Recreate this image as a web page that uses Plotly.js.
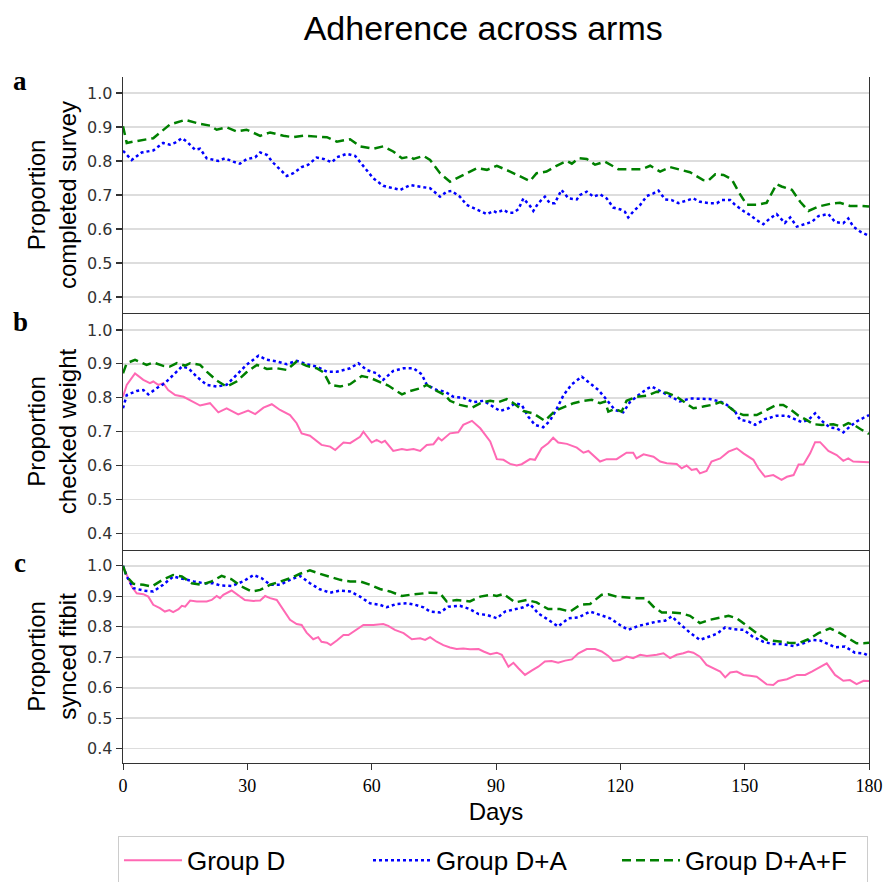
<!DOCTYPE html>
<html>
<head>
<meta charset="utf-8">
<script src="https://cdn.plot.ly/plotly-3.0.1.min.js"></script>
<style>html,body{margin:0;padding:0;background:#fff;}#chart{width:885px;height:882px;}</style>
</head>
<body>
<div id="chart"></div>
<script>
// ---------- DATA ----------
var groupNames = ["Group D", "Group D+A", "Group D+A+F"];
var panelLabels = ["a", "b", "c"];
var yTitles = ["Proportion<br>completed survey", "Proportion<br>checked weight", "Proportion<br>synced fitbit"];
var xTickVals = [0, 30, 60, 90, 120, 150, 180];
var yTickVals = [0.4, 0.5, 0.6, 0.7, 0.8, 0.9, 1.0];

// Panel a: completed survey
var aDA_day = [0,0.9,2.1,4.5,7.3,9.7,11.3,12.6,14.2,15.4,17.4,18.6,20.2,23.0,24.6,26.6,28.2,29.8,31.9,33.1,34.7,36.3,37.9,39.5,41.1,43.1,44.7,46.7,48.4,50.4,51.6,54.0,56.0,58.0,60.4,62.8,65.2,66.9,69.3,71.7,74.1,76.5,78.1,79.3,81.3,82.9,85.4,87.8,89.4,90.2,91.8,93.0,94.2,95.4,96.6,98.2,99.0,100.2,101.8,103.0,104.2,105.8,107.5,109.5,110.3,111.9,113.5,115.1,116.7,118.3,119.9,121.1,121.9,123.1,124.8,126.4,128.0,129.2,130.8,132.4,134.0,136.0,137.6,139.2,141.6,143.3,144.5,146.5,147.7,149.7,151.3,152.9,154.5,156.1,157.7,159.7,161.0,162.6,164.6,166.2,167.8,170.2,171.8,173.8,175.0,176.2,177.9,179.5,180];
var aDA = [0.830,0.818,0.803,0.825,0.831,0.853,0.848,0.854,0.867,0.857,0.833,0.836,0.808,0.800,0.808,0.798,0.792,0.805,0.811,0.825,0.818,0.794,0.774,0.756,0.764,0.782,0.789,0.810,0.806,0.796,0.811,0.821,0.815,0.784,0.749,0.727,0.720,0.715,0.729,0.725,0.720,0.695,0.710,0.712,0.695,0.671,0.656,0.644,0.653,0.648,0.656,0.648,0.648,0.658,0.690,0.668,0.653,0.676,0.695,0.676,0.676,0.715,0.690,0.687,0.700,0.710,0.695,0.702,0.690,0.663,0.658,0.651,0.634,0.651,0.671,0.697,0.705,0.713,0.687,0.685,0.676,0.683,0.690,0.680,0.676,0.676,0.685,0.685,0.671,0.653,0.641,0.626,0.614,0.631,0.644,0.618,0.634,0.607,0.615,0.621,0.638,0.644,0.621,0.617,0.631,0.607,0.592,0.582,0.580];
var aDAF_day = [0,0.9,2.5,7.3,11.3,15.0,18.6,21.0,22.6,25.0,27.4,29.8,33.1,35.5,38.7,41.1,43.5,46.7,49.2,51.6,54.8,57.2,60.4,62.8,65.2,67.3,69.3,70.1,72.5,74.1,76.5,78.9,81.3,82.9,85.4,87.8,90.2,93.4,95.8,98.2,99.8,102.2,104.6,107.1,108.3,109.9,111.9,113.9,116.3,119.5,122.3,125.2,127.2,129.6,132.0,134.4,136.8,140.0,141.2,142.9,144.9,146.9,148.5,150.5,152.9,155.3,157.7,158.9,161.4,163.4,165.4,167.8,170.6,173.0,175.4,177.9,180];
var aDAF = [0.902,0.853,0.857,0.867,0.907,0.921,0.909,0.904,0.892,0.899,0.887,0.892,0.874,0.884,0.874,0.870,0.874,0.872,0.870,0.857,0.864,0.843,0.836,0.843,0.828,0.808,0.813,0.806,0.815,0.803,0.764,0.739,0.754,0.764,0.779,0.774,0.786,0.769,0.754,0.741,0.764,0.769,0.786,0.800,0.792,0.808,0.806,0.789,0.798,0.776,0.776,0.776,0.786,0.769,0.782,0.774,0.767,0.744,0.742,0.761,0.759,0.746,0.710,0.671,0.671,0.677,0.732,0.725,0.715,0.680,0.653,0.666,0.674,0.677,0.668,0.668,0.666];

// Panel b: checked weight
var bD_day = [0,0.9,2.9,4.9,6.5,7.3,8.5,9.7,10.9,12.6,14.6,16.6,18.6,21.0,23.0,25.0,27.8,30.2,31.9,33.9,35.9,37.9,40.3,41.9,43.1,45.1,47.9,50.0,51.2,53.2,54.8,57.2,58.0,60.0,61.2,62.4,63.2,65.2,67.3,68.5,70.1,71.7,73.3,74.9,76.1,76.9,78.9,80.9,82.1,84.2,86.2,88.6,90.2,91.8,93.4,95.0,96.2,98.2,99.4,101.0,102.6,103.8,105.0,107.1,109.5,111.1,112.3,115.1,116.7,119.1,121.5,123.1,123.9,125.6,128.0,129.6,131.2,133.6,134.8,136.0,137.2,138.4,139.2,140.8,142.0,144.1,146.1,148.1,149.7,152.1,153.3,154.9,156.9,158.9,160.2,161.8,163.0,164.2,165.8,167.0,168.2,170.2,172.2,173.8,175.0,176.2,177.9,180];
var bD = [0.803,0.838,0.872,0.853,0.843,0.848,0.838,0.843,0.823,0.808,0.803,0.791,0.777,0.784,0.757,0.769,0.751,0.762,0.752,0.771,0.781,0.764,0.749,0.725,0.695,0.688,0.661,0.656,0.646,0.668,0.666,0.685,0.700,0.668,0.676,0.668,0.673,0.643,0.649,0.646,0.649,0.643,0.661,0.663,0.682,0.674,0.695,0.698,0.720,0.732,0.710,0.671,0.619,0.617,0.605,0.600,0.604,0.619,0.617,0.651,0.666,0.682,0.668,0.664,0.653,0.638,0.643,0.612,0.619,0.619,0.638,0.638,0.621,0.633,0.626,0.612,0.607,0.605,0.592,0.600,0.587,0.590,0.577,0.584,0.612,0.621,0.641,0.651,0.636,0.617,0.592,0.567,0.572,0.558,0.567,0.572,0.603,0.603,0.636,0.669,0.669,0.643,0.631,0.614,0.621,0.612,0.612,0.610];
var bDA_day = [0,0.9,3.3,4.9,6.1,8.1,10.1,12.1,14.2,15.8,17.8,20.2,22.6,25.0,27.4,29.8,32.7,34.7,37.1,39.5,41.9,44.3,46.7,49.2,51.6,54.8,56.8,58.8,61.2,62.8,65.2,67.7,70.1,72.1,73.3,75.7,77.7,79.7,82.1,84.6,87.0,89.4,91.0,93.0,94.6,96.2,97.8,99.4,101.4,103.0,104.6,106.3,108.3,110.7,112.7,114.7,116.3,118.7,120.7,122.3,124.4,126.4,127.6,129.6,132.4,134.4,136.8,139.2,141.6,144.1,145.7,147.7,148.9,150.9,152.5,154.9,157.7,160.2,161.8,163.8,165.4,167.0,168.6,170.6,172.2,173.8,175.4,177.0,178.7,180];
var bDA = [0.769,0.808,0.820,0.823,0.810,0.828,0.843,0.867,0.892,0.887,0.862,0.838,0.833,0.838,0.869,0.897,0.924,0.912,0.907,0.899,0.909,0.899,0.892,0.877,0.877,0.887,0.902,0.882,0.872,0.853,0.879,0.887,0.887,0.869,0.838,0.823,0.818,0.803,0.800,0.787,0.791,0.774,0.761,0.769,0.784,0.779,0.744,0.720,0.713,0.732,0.766,0.808,0.840,0.862,0.843,0.823,0.800,0.764,0.757,0.787,0.808,0.826,0.833,0.820,0.803,0.789,0.798,0.798,0.796,0.789,0.779,0.759,0.735,0.730,0.720,0.737,0.747,0.747,0.739,0.728,0.735,0.754,0.732,0.712,0.710,0.698,0.715,0.730,0.741,0.749];
var bDAF_day = [0,0.9,2.9,5.7,7.3,9.7,11.3,13.0,15.0,16.2,18.6,20.2,22.6,25.0,27.4,29.8,32.3,34.7,37.1,39.5,41.9,44.3,46.7,48.4,50.0,52.4,54.8,57.6,59.6,62.0,64.0,65.6,67.3,69.3,71.7,73.3,75.7,77.7,78.9,81.3,84.2,86.6,88.6,90.6,92.6,94.6,96.6,99.0,101.8,104.2,106.7,108.7,111.1,113.1,115.1,116.3,117.1,118.7,120.3,121.5,123.9,126.4,128.8,131.2,133.6,136.0,137.6,140.0,142.1,144.1,146.1,147.7,149.7,152.9,155.7,157.7,159.3,161.0,163.0,164.6,166.6,168.6,171.4,173.4,175.0,176.6,177.9,180];
var bDAF = [0.872,0.902,0.912,0.897,0.904,0.894,0.892,0.902,0.895,0.902,0.897,0.877,0.851,0.833,0.848,0.875,0.897,0.885,0.887,0.882,0.907,0.894,0.887,0.875,0.838,0.833,0.840,0.864,0.859,0.846,0.836,0.823,0.810,0.820,0.828,0.838,0.820,0.808,0.791,0.779,0.771,0.786,0.791,0.787,0.796,0.781,0.761,0.754,0.732,0.761,0.774,0.784,0.791,0.794,0.784,0.789,0.759,0.767,0.759,0.791,0.803,0.806,0.818,0.815,0.803,0.784,0.769,0.774,0.779,0.787,0.774,0.759,0.749,0.749,0.767,0.779,0.779,0.766,0.747,0.737,0.722,0.720,0.722,0.715,0.725,0.718,0.708,0.693];

// Panel c: synced fitbit
var cD_day = [0,0.9,2.1,3.3,4.9,6.1,7.3,8.9,10.1,11.2,12.1,13.4,14.2,15.0,16.2,17.8,20.2,21.4,22.6,23.4,24.2,26.2,27.8,29.4,31.5,33.1,34.3,35.5,37.1,38.7,40.3,41.9,43.1,44.3,45.9,47.1,47.9,49.2,50.1,51.6,53.2,54.4,56.4,58.0,60.4,62.8,64.0,65.6,67.7,69.7,71.7,72.9,74.1,75.7,77.3,78.9,80.5,82.1,83.7,85.8,87.0,88.6,90.2,91.4,93.0,94.2,95.4,97.0,98.6,100.2,101.8,103.4,105.0,106.7,108.3,109.9,111.9,113.9,115.5,117.1,118.3,119.9,121.5,123.1,124.8,126.4,128.8,130.4,132.0,133.6,135.2,136.4,137.6,139.2,140.8,142.4,144.1,145.3,146.5,148.1,149.7,151.3,152.9,155.3,156.9,158.1,160.2,162.6,164.6,166.2,168.2,169.8,171.8,173.8,175.4,177.0,178.7,180];
var cD = [1.000,0.970,0.932,0.910,0.907,0.899,0.872,0.861,0.850,0.855,0.848,0.858,0.869,0.866,0.886,0.883,0.883,0.888,0.901,0.894,0.905,0.919,0.903,0.888,0.885,0.886,0.901,0.894,0.888,0.855,0.823,0.809,0.806,0.781,0.759,0.766,0.751,0.748,0.740,0.755,0.773,0.773,0.790,0.806,0.806,0.809,0.803,0.790,0.779,0.759,0.762,0.757,0.766,0.751,0.740,0.732,0.727,0.729,0.726,0.727,0.719,0.710,0.715,0.708,0.669,0.682,0.664,0.642,0.656,0.669,0.686,0.688,0.682,0.689,0.693,0.713,0.727,0.727,0.719,0.704,0.688,0.691,0.702,0.697,0.708,0.704,0.708,0.713,0.697,0.708,0.713,0.719,0.715,0.702,0.675,0.664,0.653,0.634,0.650,0.653,0.642,0.639,0.636,0.611,0.609,0.622,0.628,0.642,0.642,0.653,0.667,0.680,0.642,0.623,0.625,0.612,0.623,0.622];
var cDA_day = [0,0.9,2.5,4.9,7.3,9.7,12.1,14.6,17.0,19.4,21.8,23.4,26.2,29.0,31.5,33.5,35.5,37.9,40.3,42.7,45.1,47.5,50.0,52.4,54.8,57.2,59.6,62.0,63.6,66.0,68.5,70.5,72.5,74.1,76.5,78.5,81.3,83.7,85.8,87.8,90.2,92.2,94.6,96.6,98.2,100.2,102.6,105.0,107.5,109.9,112.7,115.1,117.5,119.9,121.9,124.4,126.4,128.8,130.8,132.4,134.4,136.8,139.2,141.6,143.3,145.3,147.3,149.7,152.1,154.5,156.5,159.3,161.8,164.2,166.2,168.2,169.8,171.8,174.2,176.6,178.7,180];
var cDA = [1.000,0.965,0.927,0.919,0.916,0.938,0.965,0.956,0.949,0.943,0.943,0.936,0.934,0.949,0.970,0.959,0.938,0.938,0.954,0.967,0.943,0.923,0.912,0.919,0.916,0.899,0.877,0.872,0.864,0.875,0.877,0.872,0.864,0.850,0.847,0.866,0.869,0.858,0.842,0.839,0.828,0.850,0.858,0.864,0.875,0.844,0.823,0.801,0.828,0.831,0.850,0.839,0.828,0.806,0.790,0.803,0.809,0.817,0.820,0.834,0.809,0.781,0.757,0.768,0.777,0.798,0.792,0.790,0.766,0.751,0.744,0.743,0.737,0.746,0.757,0.755,0.744,0.733,0.735,0.715,0.713,0.704];
var cDAF_day = [0,0.9,2.5,4.9,6.9,9.3,12.1,14.2,16.6,19.0,21.4,23.8,26.2,28.6,31.1,33.1,35.5,37.9,40.3,42.7,45.1,47.5,50.0,52.4,54.8,57.2,59.6,62.0,64.4,67.3,69.3,71.7,74.1,76.5,78.1,80.5,83.7,86.2,88.6,90.2,91.8,94.6,97.4,99.8,102.6,105.4,107.9,110.3,112.7,115.5,117.1,119.1,121.5,123.9,126.0,128.0,130.0,132.4,134.8,136.8,139.2,141.6,144.1,146.1,148.1,150.5,152.9,155.3,158.1,160.6,163.0,165.4,167.8,170.6,173.0,175.4,177.0,178.7,180];
var cDAF = [1.000,0.965,0.941,0.938,0.932,0.952,0.970,0.965,0.943,0.938,0.949,0.967,0.956,0.932,0.916,0.921,0.938,0.949,0.959,0.974,0.985,0.974,0.965,0.954,0.949,0.949,0.938,0.924,0.916,0.901,0.905,0.908,0.912,0.910,0.883,0.888,0.883,0.899,0.905,0.901,0.908,0.880,0.888,0.880,0.858,0.858,0.850,0.872,0.875,0.905,0.907,0.899,0.896,0.894,0.894,0.866,0.847,0.847,0.844,0.836,0.812,0.823,0.830,0.836,0.828,0.803,0.779,0.757,0.751,0.748,0.746,0.759,0.779,0.795,0.779,0.759,0.746,0.746,0.748];

// ---------- STYLE ----------
var colD = "#ff69b4", colDA = "#0000ff", colDAF = "#008000";
var sans = "Liberation Sans, Arial, sans-serif";
var serif = "Liberation Serif, Times New Roman, serif";

function tr(x, y, name, color, dash, width, xa, ya, show) {
  return {x: x, y: y, name: name, type: "scatter", mode: "lines", xaxis: xa, yaxis: ya,
    line: {color: color, dash: dash, width: width}, legendgroup: name, showlegend: show, hoverinfo: "skip"};
}

var dotDash = "dot", dashDash = "9px,5px";
var data = [
  tr(aDA_day, aDA, groupNames[1], colDA, dotDash, 2.5, "x", "y", false),
  tr(aDAF_day, aDAF, groupNames[2], colDAF, dashDash, 2.5, "x", "y", false),
  tr(bD_day, bD, groupNames[0], colD, "solid", 2, "x2", "y2", false),
  tr(bDA_day, bDA, groupNames[1], colDA, dotDash, 2.5, "x2", "y2", false),
  tr(bDAF_day, bDAF, groupNames[2], colDAF, dashDash, 2.5, "x2", "y2", false),
  tr(cD_day, cD, groupNames[0], colD, "solid", 2, "x3", "y3", true),
  tr(cDA_day, cDA, groupNames[1], colDA, dotDash, 2.5, "x3", "y3", true),
  tr(cDAF_day, cDAF, groupNames[2], colDAF, dashDash, 2.5, "x3", "y3", true)
];

var axLine = "#333";
function yax(domain, range, title) {
  return {domain: domain, range: range, tickvals: yTickVals, ticktext: yTickVals.map(function(v){return v.toFixed(1);}),
    ticks: "outside", ticklen: 6, tickcolor: axLine, tickwidth: 1.2,
    showline: true, linecolor: axLine, linewidth: 1.3, mirror: true,
    showgrid: true, gridcolor: "#dddddd", gridwidth: 1.6, zeroline: false,
    tickfont: {family: "DejaVu Sans, sans-serif", size: 16, color: "#333"},
    title: {text: title, font: {family: sans, size: 24, color: "#000"}, standoff: 3},
    fixedrange: true};
}
function xax(anchor, showLabels) {
  return {anchor: anchor, range: [0, 180], tickvals: xTickVals, showticklabels: showLabels,
    ticks: showLabels ? "outside" : "", ticklen: 6, tickcolor: axLine, ticklabelstandoff: 0,
    showline: true, linecolor: axLine, linewidth: 1.3, mirror: false,
    showgrid: false, zeroline: false,
    tickfont: {family: serif, size: 18, color: "#000"},
    title: showLabels ? {text: "Days", font: {family: sans, size: 24, color: "#000"}, standoff: 8} : {text: ""},
    fixedrange: true};
}

var dC = 213/686, dB = 450/686;
var labelY = [81, 322, 563];
var layout = {
  width: 885, height: 882,
  margin: {l: 123, r: 16, t: 77, b: 119, autoexpand: false},
  paper_bgcolor: "#fff", plot_bgcolor: "#fff",
  title: {text: "Adherence across arms", font: {family: sans, size: 34, color: "#000"},
    x: 0.546, xref: "container", y: 1 - 28/882, yref: "container", yanchor: "middle"},
  xaxis: Object.assign(xax("y", false), {matches: "x3"}),
  xaxis2: Object.assign(xax("y2", false), {matches: "x3"}),
  xaxis3: xax("y3", true),
  yaxis: yax([dB, 1], [0.353, 1.047], yTitles[0]),
  yaxis2: yax([dC, dB], [0.351, 1.05], yTitles[1]),
  yaxis3: yax([0, dC], [0.353, 1.052], yTitles[2]),
  showlegend: true,
  legend: {orientation: "h", x: -0.007, xanchor: "left", y: -0.106, yanchor: "top",
    font: {family: sans, size: 26, color: "#000"}, bgcolor: "#fff",
    bordercolor: "#cccccc", borderwidth: 1.2, entrywidth: 176, entrywidthmode: "pixels",
    itemwidth: 58, traceorder: "normal"},
  annotations: panelLabels.map(function(t, i) {
    return {text: "<b>" + t + "</b>", xref: "paper", yref: "paper", x: (20 - 123)/746, y: (763 - labelY[i])/686,
      xanchor: "center", yanchor: "middle", showarrow: false,
      font: {family: serif, size: 27, color: "#000"}};
  })
};

Plotly.newPlot("chart", data, layout, {staticPlot: true, displayModeBar: false});
</script>
</body>
</html>
